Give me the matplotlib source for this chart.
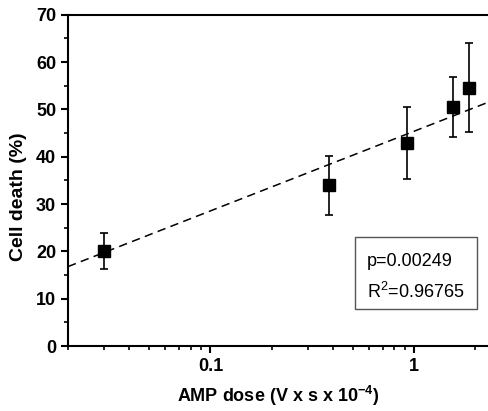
import numpy as np
import matplotlib
matplotlib.use('Agg')
import matplotlib.pyplot as plt
from matplotlib.patches import Rectangle
from matplotlib.ticker import LogLocator, MultipleLocator, FixedLocator, NullFormatter

plt.rcParams['font.family'] = ['Liberation Sans', 'DejaVu Sans']
plt.rcParams['mathtext.fontset'] = 'custom'
plt.rcParams['mathtext.rm'] = 'Liberation Sans'
plt.rcParams['mathtext.bf'] = 'Liberation Sans:bold'

# AMP dose (V x s x 10^-4) and cell death (%)
dose = [0.03, 0.38, 0.92, 1.55, 1.86]
death = [20.1, 34.0, 43.0, 50.5, 54.6]
err_low = [3.8, 6.3, 7.8, 6.4, 9.4]
err_high = [3.8, 6.2, 7.5, 6.4, 9.4]

# fitted line: y = a + b*log10(x)
fit_a = 45.4
fit_b = 16.84
p_text = 'p=0.00249'
r2_text = 'R$^2$=0.96765'

fig = plt.figure(figsize=(4.89, 4.11), dpi=100)
ax = fig.add_axes([0.139, 0.158, 0.861, 0.806])

xfit = np.logspace(np.log10(0.02), np.log10(2.4), 50)
ax.plot(xfit, fit_a + fit_b * np.log10(xfit), '--', color='black', lw=1.1,
        dashes=(5.5, 3.5))
ax.errorbar(dose, death, yerr=[err_low, err_high], fmt='s', color='black',
            ms=8, capsize=2.6, elinewidth=1.2, capthick=1.2)

ax.set_xscale('log')
ax.set_xlim(0.02, 2.33)
ax.set_ylim(0, 70)
ax.xaxis.set_major_locator(FixedLocator([0.1, 1]))
ax.xaxis.set_minor_locator(LogLocator(base=10, subs=np.arange(2, 10)))
ax.xaxis.set_minor_formatter(NullFormatter())
ax.set_xticklabels(['0.1', '1'])
ax.yaxis.set_major_locator(MultipleLocator(10))
ax.yaxis.set_minor_locator(MultipleLocator(5))

for s in ['left', 'bottom', 'top']:
    ax.spines[s].set_linewidth(1.5)
ax.spines['right'].set_visible(False)
ax.tick_params(which='major', length=5, width=1.5, labelsize=13, top=False)
ax.tick_params(which='minor', length=3, width=1.2, top=False)
for lab in ax.get_xticklabels() + ax.get_yticklabels():
    lab.set_fontweight('bold')

ax.set_ylabel('Cell death (%)', fontsize=14, fontweight='bold')
ax.set_xlabel(r'AMP dose (V x s x 10$^{\mathbf{-4}}$)', fontsize=13,
              fontweight='bold')
ax.yaxis.set_label_coords(-0.097, 0.45)
ax.xaxis.set_label_coords(0.5, -0.114)

ax.add_patch(Rectangle((0.682, 0.112), 0.289, 0.217, transform=ax.transAxes,
                       fill=True, fc='white', ec='#555555', lw=1.0, zorder=5))
ax.text(0.71, 0.254, p_text, transform=ax.transAxes, fontsize=13,
        va='center', ha='left', zorder=6)
ax.text(0.71, 0.163, r2_text, transform=ax.transAxes, fontsize=13,
        va='center', ha='left', zorder=6)

fig.savefig('out.png', dpi=100)
